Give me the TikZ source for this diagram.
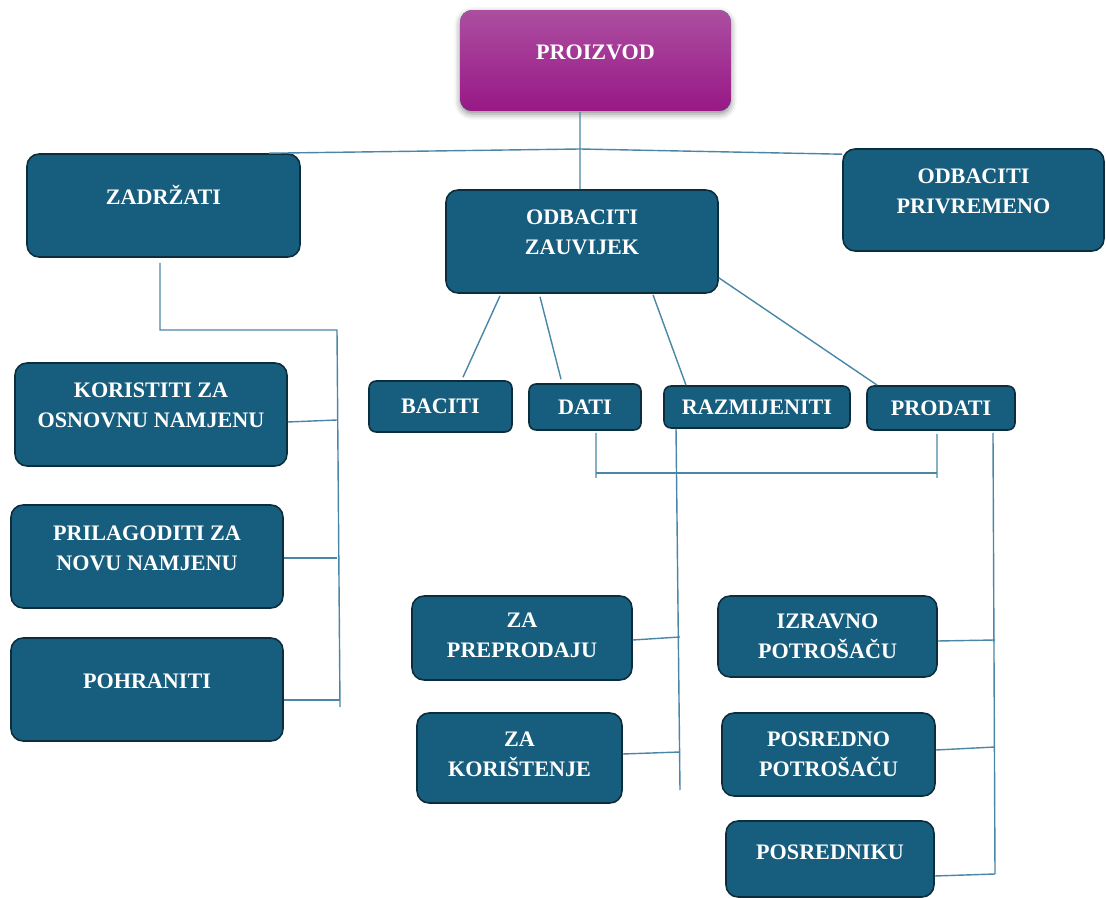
\documentclass[tikz,border=0pt]{standalone}
\usepackage{fontspec}
\setmainfont{Liberation Serif}
\usetikzlibrary{calc,shadows.blur}

\definecolor{boxfill}{RGB}{23,94,126}
\definecolor{boxline}{RGB}{12,45,60}
\definecolor{linkcol}{RGB}{74,134,166}
\definecolor{topA}{RGB}{172,78,160}
\definecolor{topB}{RGB}{152,24,134}

\begin{document}
\begin{tikzpicture}[%
    x=0.02cm, y=-0.02cm,
    box/.style={
        draw=boxline,
        fill=boxfill,
        line width=0.9pt,
        rounded corners=0.24cm,
        text=white,
        align=center,
        inner sep=0pt,
        font=\fontsize{12.6pt}{17pt}\selectfont\bfseries},
    smallbox/.style={box, rounded corners=0.14cm},
    oneline/.style={text height=9pt, text depth=#1},
    twolines/.style={text depth=#1},
    link/.style={draw=linkcol, line width=0.8pt},
]

\useasboundingbox (0,0) rectangle (1106,898);

% top level
\node[box, draw=none, top color=topA, bottom color=topB,
      blur shadow={shadow xshift=0pt, shadow yshift=-0.06cm,
                   shadow blur radius=0.12cm, shadow opacity=45},
      minimum width=5.42cm, minimum height=2.02cm, oneline=10.6pt]
      (top) at (595.5,60.5) {PROIZVOD};

\node[box, minimum width=5.46cm, minimum height=2.06cm, oneline=10.6pt]
      (keep) at (163.5,205.5) {ZADRŽATI};
\node[box, minimum width=5.44cm, minimum height=2.06cm, twolines=10.5pt]
      (forever) at (582,241.5) {ODBACITI\\ZAUVIJEK};
\node[box, minimum width=5.22cm, minimum height=2.04cm, twolines=10pt]
      (temp) at (973.5,200) {ODBACITI\\PRIVREMENO};

% zadrzati
\node[box, minimum width=5.44cm, minimum height=2.06cm, twolines=10.5pt]
      (use) at (151,414.5) {KORISTITI ZA\\OSNOVNU NAMJENU};
\node[box, minimum width=5.44cm, minimum height=2.06cm, twolines=9.5pt]
      (adapt) at (147,556.5) {PRILAGODITI ZA\\NOVU NAMJENU};
\node[box, minimum width=5.44cm, minimum height=2.06cm, oneline=10.6pt]
      (store) at (147,689.5) {POHRANITI};

% odbaciti zauvijek
\node[smallbox, minimum width=2.86cm, minimum height=1.02cm, oneline=0.6pt]
      (throw) at (440.5,406.5) {BACITI};
\node[smallbox, minimum width=2.24cm, minimum height=0.92cm, oneline=0.6pt]
      (give) at (585,407) {DATI};
\node[smallbox, minimum width=3.72cm, minimum height=0.84cm, oneline=0.6pt]
      (swap) at (757,407) {RAZMIJENITI};
\node[smallbox, minimum width=2.96cm, minimum height=0.88cm, oneline=0.6pt]
      (sell) at (941,408) {PRODATI};

% razmijeniti
\node[box, minimum width=4.40cm, minimum height=1.68cm, twolines=3pt]
      (resale) at (522,638) {ZA\\PREPRODAJU};
\node[box, minimum width=4.10cm, minimum height=1.80cm, twolines=4pt]
      (usage) at (519.5,758) {ZA\\KORIŠTENJE};

% prodati
\node[box, minimum width=4.38cm, minimum height=1.62cm, twolines=0.5pt]
      (direct) at (827.5,636.5) {IZRAVNO\\POTROŠAČU};
\node[box, minimum width=4.26cm, minimum height=1.66cm, twolines=0pt]
      (indirect) at (828.5,754.5) {POSREDNO\\POTROŠAČU};
\node[box, minimum width=4.16cm, minimum height=1.52cm, oneline=8pt]
      (agent) at (830,859) {POSREDNIKU};

% junctions
\coordinate (hub) at (580,149);
\coordinate (kturn) at (337,330);
\coordinate (kfoot) at (340,707);
\coordinate (bridgeL) at (596,473);
\coordinate (bridgeR) at (937,473);
\coordinate (sfoot) at (680,790);
\coordinate (pfoot) at (995,874);

% connectors
\draw[link] (top.south -| hub) -- ([xshift=-0.04cm]forever.north);
\draw[link] ([xshift=-0.64cm]keep.north east) -- (hub) -- ([yshift=-0.12cm]temp.north west);

\draw[link] ([xshift=-0.07cm,yshift=-0.1cm]keep.south) |- (kturn) -- (kfoot);
\draw[link] ([yshift=-0.15cm]use.east) -- ([yshift=-0.11cm]use.east -| kturn);
\draw[link] ([yshift=-0.03cm]adapt.east) -- ([yshift=-0.03cm]adapt.east -| kturn);
\draw[link] ([yshift=-0.21cm]store.east) -- ([yshift=-0.21cm]store.east -| kfoot);

\draw[link] ([xshift=-1.64cm,yshift=-0.04cm]forever.south) -- ([xshift=0.45cm,yshift=0.06cm]throw.north);
\draw[link] ([xshift=-0.84cm,yshift=-0.06cm]forever.south) -- ([xshift=-0.48cm,yshift=0.08cm]give.north);
\draw[link] ([xshift=1.42cm,yshift=-0.02cm]forever.south) -- ([xshift=-1.42cm]swap.north);
\draw[link] ([yshift=0.32cm]forever.south east) -- ([xshift=0.22cm]sell.north west);

\draw[link] ([xshift=0.22cm,yshift=-0.04cm]give.south) -- ([yshift=-0.1cm]bridgeL);
\draw[link] (bridgeL) -- (bridgeR);
\draw[link] ([xshift=-0.08cm,yshift=-0.06cm]sell.south) -- ([yshift=-0.1cm]bridgeR);

\draw[link] ([xshift=-1.62cm]swap.south) -- (sfoot);
\draw[link] ([yshift=-0.04cm]resale.east) -- ([yshift=0.02cm]resale.east -| sfoot);
\draw[link] ([yshift=0.08cm]usage.east) -- ([yshift=0.12cm]usage.east -| sfoot);

\draw[link] ([xshift=1.04cm,yshift=-0.04cm]sell.south) -- (pfoot);
\draw[link] ([yshift=-0.09cm]direct.east) -- ([yshift=-0.07cm]direct.east -| pfoot);
\draw[link] ([yshift=0.09cm]indirect.east) -- ([yshift=0.15cm]indirect.east -| pfoot);
\draw[link] ([yshift=-0.34cm]agent.east) -- (pfoot);
\end{tikzpicture}
\end{document}
